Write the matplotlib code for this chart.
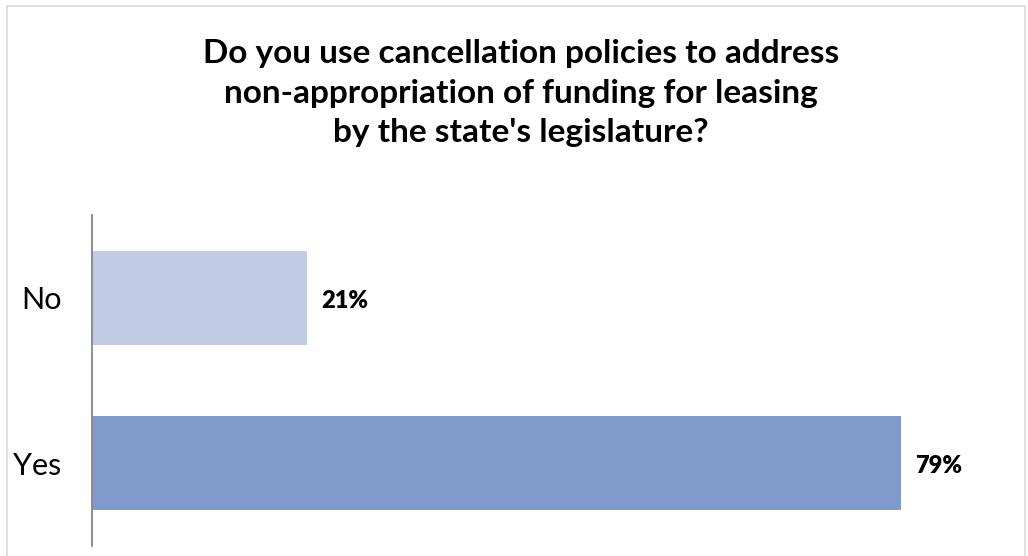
import matplotlib
matplotlib.use("Agg")
import matplotlib.pyplot as plt
from matplotlib.patches import Rectangle

categories = ["Yes", "No"]
values = [79, 21]
value_labels = ["79%", "21%"]
bar_colors = ["#7F9ACB", "#C0CCE6"]
title = ("Do you use cancellation policies to address\n"
         "non-appropriation of funding for leasing\n"
         "by the state's legislature?")

W, H = 1028, 556
plt.rcParams["font.family"] = ["Lato", "DejaVu Sans"]

fig = plt.figure(figsize=(W / 100, H / 100), dpi=100)

# light frame around the whole chart area
fig.patches.append(Rectangle((7 / W, -0.05), 1018 / W, 1.05 - 6 / H,
                             transform=fig.transFigure, fill=False,
                             edgecolor="#D9D9D9", linewidth=1.2))

ax_left, ax_right = 92, 1000
ax = fig.add_axes([ax_left / W, 1 - 546 / H, (ax_right - ax_left) / W, 331 / H])

ypos = list(range(len(categories)))
ax.barh(ypos, values, height=0.566, color=bar_colors)
ax.set_xlim(0, 79 * (ax_right - ax_left) / 809)
ax.set_ylim(-0.5, 1.5)
ax.set_yticks(ypos)
ax.set_yticklabels(categories, fontsize=22, color="#000000")
ax.tick_params(axis="y", length=0, pad=22)
ax.set_xticks([])

for s in ["top", "right", "bottom"]:
    ax.spines[s].set_visible(False)
ax.spines["left"].set_color("#868686")
ax.spines["left"].set_linewidth(1.3)

for y, v, lab in zip(ypos, values, value_labels):
    ax.annotate(lab, xy=(v, y), xytext=(14, -3), textcoords="offset pixels",
                ha="left", va="center", fontsize=17, fontweight="heavy",
                color="#000000")

fig.text(521 / W, 1 - 93 / H, title, ha="center", va="center",
         fontsize=24, fontweight="bold", linespacing=1.42, color="#000000")

fig.savefig("out.png", dpi=100)
